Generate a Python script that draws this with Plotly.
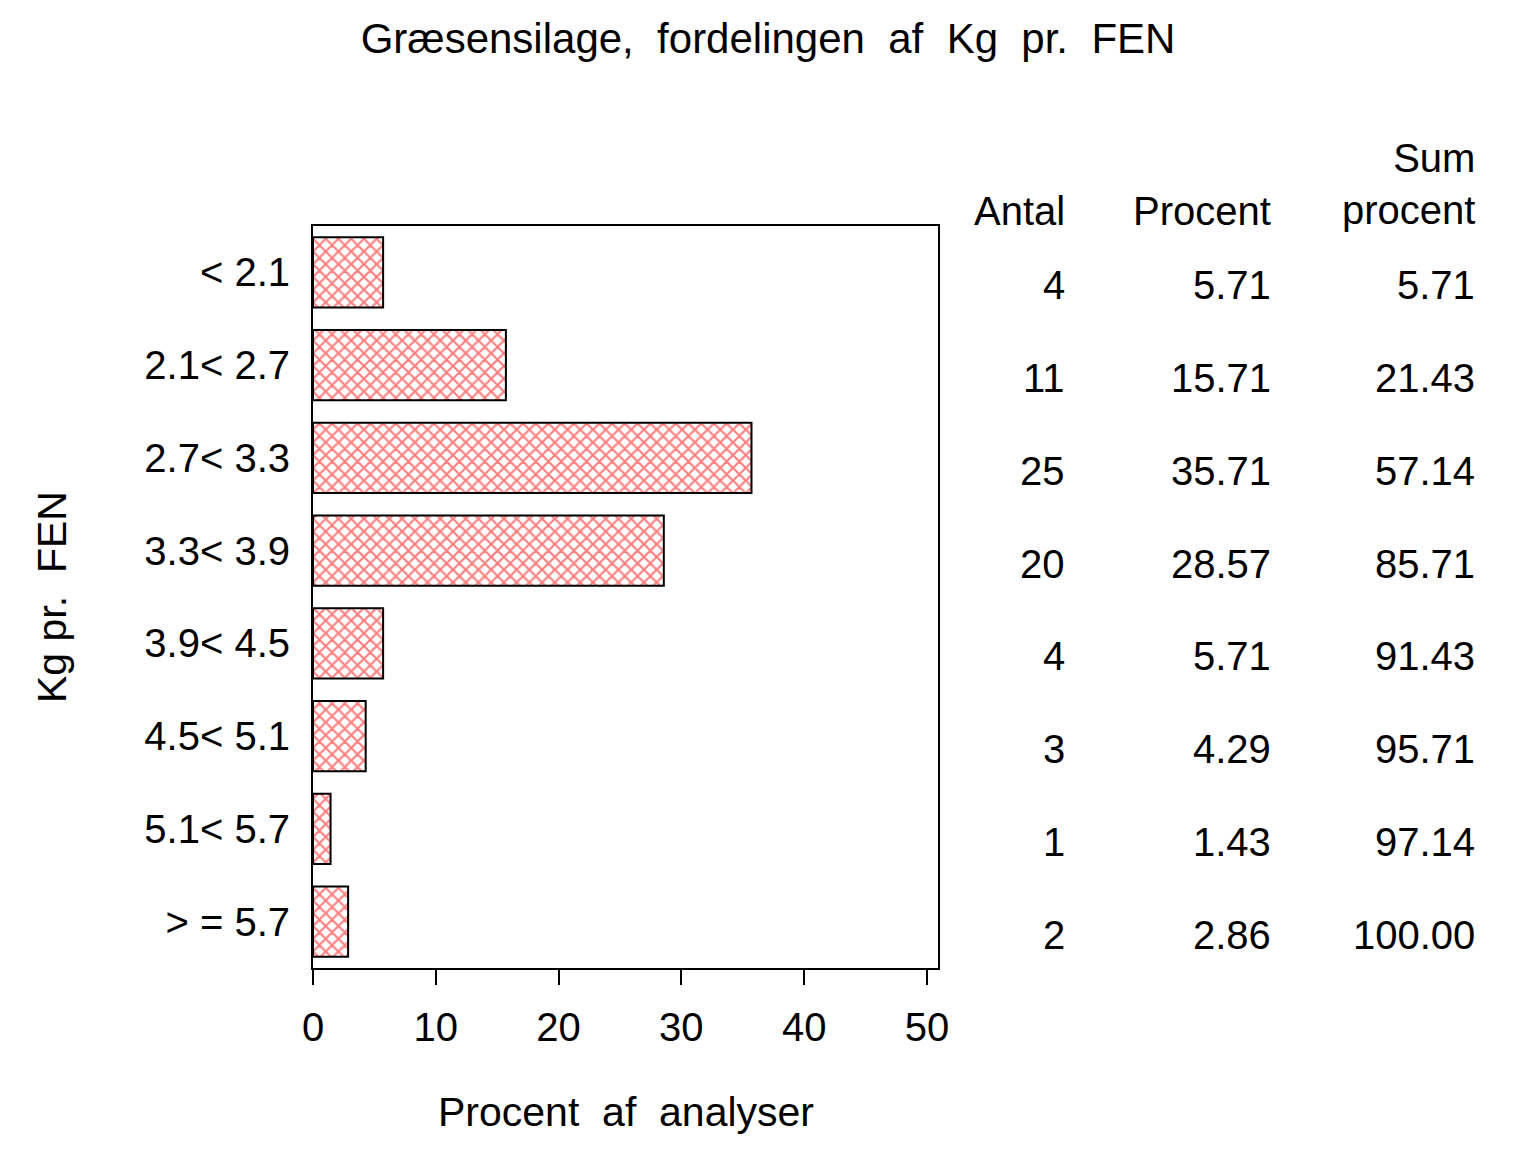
import plotly.graph_objects as go

# Data
kg_intervals = ["< 2.1", "2.1< 2.7", "2.7< 3.3", "3.3< 3.9", "3.9< 4.5", "4.5< 5.1", "5.1< 5.7", "> = 5.7"]
antal = [4, 11, 25, 20, 4, 3, 1, 2]
procent = [5.71, 15.71, 35.71, 28.57, 5.71, 4.29, 1.43, 2.86]
sum_procent = [5.71, 21.43, 57.14, 85.71, 91.43, 95.71, 97.14, 100.00]
x_ticks = [0, 10, 20, 30, 40, 50]

FONT = "Liberation Sans, Arial, sans-serif"
GAP = "\u00a0\u00a0"  # the original uses wide word gaps


def esc(s):
    return s.replace("<", "&lt;").replace(">", "&gt;")


fig = go.Figure(
    go.Bar(
        x=procent,
        y=kg_intervals,
        orientation="h",
        marker=dict(
            color="white",
            line=dict(color="black", width=2),
            pattern=dict(shape="x", fgcolor="#ff0000", bgcolor="white", size=9, solidity=0.42),
        ),
        hoverinfo="skip",
    )
)

# ------------------------------ table to the right ------------------------------
col_x = [1.2064, 1.536, 1.8624]
for values, cx, fmt in zip([antal, procent, sum_procent], col_x, ["{:d}", "{:.2f}", "{:.2f}"]):
    for cat, v in zip(kg_intervals, values):
        fig.add_annotation(
            x=cx, y=cat, xref="paper", yref="y", text=fmt.format(v),
            xanchor="right", yanchor="middle", yshift=-13, showarrow=False,
        )

headers = ["Antal", "Procent", "Sum<br>procent"]
header_y = [1.0202, 1.0202, 1.0566]
for h, cx, hy in zip(headers, col_x, header_y):
    fig.add_annotation(
        x=cx, y=hy, xref="paper", yref="paper", text=h, align="right",
        xanchor="right", yanchor="middle", showarrow=False,
    )

# axis titles
fig.add_annotation(
    x=-0.4176, y=0.5, xref="paper", yref="paper", text=f"Kg pr.{GAP}FEN",
    textangle=-90, xanchor="center", yanchor="middle", showarrow=False,
    font=dict(size=41),
)
fig.add_annotation(
    x=0.5, y=-0.194, xref="paper", yref="paper", text=f"Procent{GAP}af{GAP}analyser",
    xanchor="center", yanchor="middle", showarrow=False,
    font=dict(size=41),
)

fig.update_xaxes(
    range=[0, 50.9],
    tickvals=x_ticks,
    ticks="outside",
    ticklen=15,
    tickwidth=2,
    tickcolor="black",
    ticklabelstandoff=8,
    showline=True,
    linecolor="black",
    linewidth=2,
    mirror=True,
    showgrid=False,
    zeroline=False,
)
fig.update_yaxes(
    autorange="reversed",
    tickvals=kg_intervals,
    ticktext=[esc(s) for s in kg_intervals],
    ticks="",
    ticklabelstandoff=13,
    showline=True,
    linecolor="black",
    linewidth=2,
    mirror=True,
    showgrid=False,
)
# page body adds ~8px offset, so margins are shifted to compensate
fig.update_layout(
    width=1536,
    height=1152,
    margin=dict(l=305, r=606, t=218, b=192, autoexpand=False),
    bargap=0.245,
    paper_bgcolor="white",
    plot_bgcolor="white",
    font=dict(family=FONT, size=40, color="black"),
    title=dict(
        text=f"Græsensilage,{GAP}fordelingen{GAP}af{GAP}Kg{GAP}pr.{GAP}FEN",
        x=0.4948, xref="container", xanchor="center",
        y=1 - 30 / 1152, yref="container", yanchor="middle",
        font=dict(family=FONT, size=42, color="black"),
    ),
    showlegend=False,
)

fig.write_html("out.html")
